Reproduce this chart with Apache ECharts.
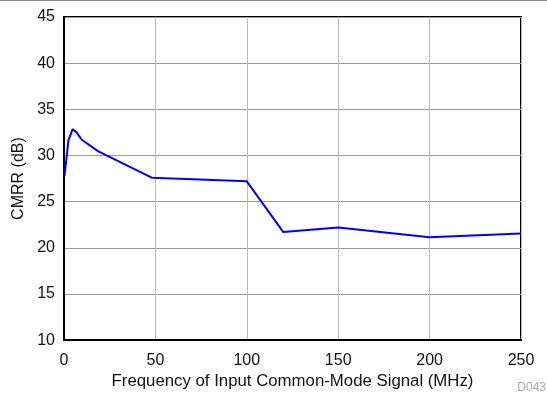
<!DOCTYPE html>
<html><head><meta charset="utf-8">
<script src="https://cdn.jsdelivr.net/npm/echarts@6/dist/echarts.min.js"></script>
<style>html,body{margin:0;padding:0;background:#fff}#c{width:547px;height:395px}</style>
</head><body><div id="c"></div>
<script>
const freq = [0.3, 2.4, 4.7, 6.9, 9.7, 18.8, 48, 100, 120, 150, 200, 250];
const cmrr = [27.8, 31.6, 32.85, 32.5, 31.7, 30.45, 27.6, 27.2, 21.7, 22.2, 21.15, 21.55];
const xName = 'Frequency of Input Common-Mode Signal (MHz)';
const yName = 'CMRR (dB)';
const chart = echarts.init(document.getElementById('c'));
const font = 'Liberation Sans, Arial, sans-serif';
chart.setOption({
  animation: false,
  grid: {left: 64, top: 17, right: 26, bottom: 53, show: true, borderColor: '#000', borderWidth: 2, backgroundColor: 'transparent'},
  xAxis: {type: 'value', min: 0, max: 250, interval: 50,
    name: xName, nameLocation: 'middle', nameGap: 31,
    nameTextStyle: {fontFamily: font, fontSize: 16.8, color: '#111'},
    axisLine: {show: true, lineStyle: {color: '#000', width: 2}},
    axisTick: {show: false},
    axisLabel: {fontFamily: font, fontSize: 16, color: '#111', margin: 12},
    splitLine: {show: true, lineStyle: {color: '#bbbbbb', width: 1}}},
  yAxis: {type: 'value', min: 10, max: 45, interval: 5,
    name: yName, nameLocation: 'middle', nameGap: 37,
    nameTextStyle: {fontFamily: font, fontSize: 16, color: '#111'},
    axisLine: {show: true, lineStyle: {color: '#000', width: 2}},
    axisTick: {show: false},
    axisLabel: {fontFamily: font, fontSize: 16, color: '#111', margin: 9},
    splitLine: {show: true, lineStyle: {color: '#999999', width: 1}}},
  graphic: [
    {type: 'rect', shape: {x: 0, y: 0, width: 547, height: 1}, style: {fill: '#888'}},
    {type: 'text', right: 1, bottom: 1, style: {text: 'D043', fontFamily: font, fontSize: 12, fill: '#aaa'}}
  ],
  series: [{type: 'line', data: freq.map((f, i) => [f, cmrr[i]]), showSymbol: false,
    lineStyle: {color: '#0000ff', width: 2}}]
});
</script></body></html>
